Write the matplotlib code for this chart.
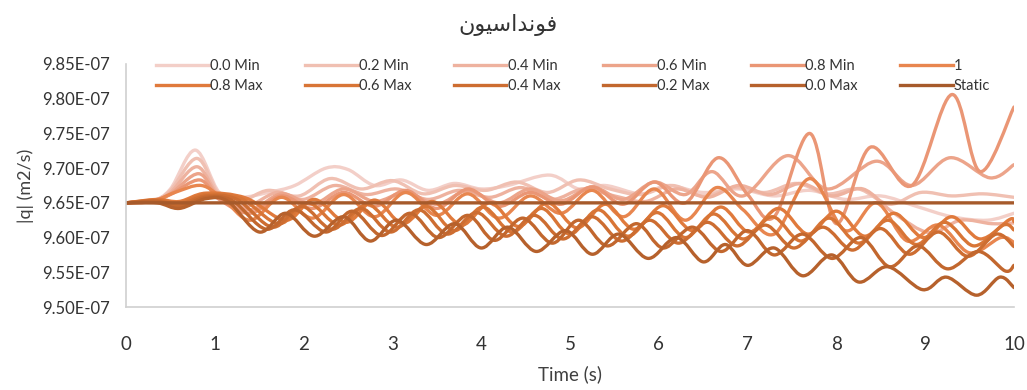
import matplotlib
matplotlib.use('Agg')
import matplotlib.pyplot as plt
import numpy as np
from matplotlib.path import Path
from matplotlib.patches import PathPatch
from matplotlib.lines import Line2D
from matplotlib.ticker import FuncFormatter, MultipleLocator

plt.rcParams['font.family'] = ['Lato', 'DejaVu Sans']

# series values are in units of 1e-9 m2/s, turning points of each curve
T_STATIC = [0, 10]
V_STATIC = [965, 965]

T_MIN00 = [0, 0.3, 0.5, 0.78, 1.05, 1.3, 1.6, 1.9, 2.25, 2.5, 2.8, 3.1, 3.4, 3.7, 4.0, 4.3,
           4.77, 5.1, 5.4, 5.8, 6.1, 6.5, 6.9, 7.3, 7.7, 8.1, 8.5, 8.9, 9.3, 9.7, 10]
V_MIN00 = [965, 965.3, 967, 972.6, 966.5, 965.8, 966.5, 967.5, 970, 969.8, 967.5, 968.3, 966.8,
           967.8, 967, 967.5, 969, 967, 967.5, 966.3, 967.5, 966.5, 967, 966, 966.8, 965.5, 966,
           964.5, 963, 962.5, 963.5]

T_MIN02 = [0, 0.3, 0.5, 0.8, 1.05, 1.3, 1.6, 1.95, 2.3, 2.65, 3.0, 3.35, 3.7, 4.05, 4.4, 4.75,
           5.1, 5.45, 5.8, 6.15, 6.5, 6.85, 7.2, 7.55, 7.9, 8.25, 8.6, 8.95, 9.3, 9.65, 10]
V_MIN02 = [965, 965.3, 966.8, 971.4, 966.2, 965.3, 966.8, 966, 968.5, 967, 968.2, 966.3, 967.5,
           966.8, 968, 966.5, 968.3, 967, 966.2, 967.5, 966, 967.2, 966.5, 967.8, 966.3, 967,
           964.8, 966.5, 966, 966.3, 965.8]

T_MIN04 = [0, 0.3, 0.5, 0.8, 1.05, 1.35, 1.7, 2.0, 2.35, 2.7, 3.05, 3.4, 3.75, 4.1, 4.45, 4.8,
           5.15, 5.5, 5.85, 6.2, 6.55, 6.9, 7.25, 7.6, 7.95, 8.3, 8.65, 9.05, 9.4, 9.75, 10]
V_MIN04 = [965, 965.3, 966.5, 970.2, 966, 964.5, 966.5, 965.5, 967.5, 966.2, 967, 965.5, 966.8,
           965.8, 967.2, 965.5, 967, 966, 965.2, 967, 965.8, 967.5, 966.2, 967.8, 966, 967,
           963.5, 960.7, 962.5, 962, 962.1]

T_MIN06 = [0, 0.3, 0.5, 0.82, 1.05, 1.4, 1.75, 2.1, 2.45, 2.8, 3.15, 3.5, 3.85, 4.2, 4.55, 4.9,
           5.25, 5.6, 5.95, 6.3, 6.6, 6.95, 7.45, 7.9, 8.45, 8.85, 9.28, 9.73, 10]
V_MIN06 = [965, 965.3, 966.3, 969.2, 965.8, 964, 966.3, 964.8, 967, 965.2, 966.5, 964.8, 966.8,
           965, 967, 965.3, 967.3, 965.5, 968, 966.2, 969.5, 966, 971.8, 967, 971, 967.5,
           971.5, 968.6, 970.5]

T_MIN08 = [0, 0.3, 0.5, 0.83, 1.05, 1.4, 1.75, 2.1, 2.45, 2.8, 3.15, 3.5, 3.85, 4.2, 4.55, 4.9,
           5.25, 5.6, 5.95, 6.3, 6.67, 7.0, 7.3, 7.7, 8.0, 8.38, 8.85, 9.3, 9.62, 10]
V_MIN08 = [965, 965.3, 966.2, 968.3, 965.5, 963.5, 966, 964.2, 966.5, 964.5, 966.8, 964.2, 967,
           964.5, 966.5, 964.8, 967.3, 964.8, 968, 965, 971.5, 966.2, 963, 975, 962, 973,
           967.5, 980.6, 969.5, 978.8]

T_ONE = [0, 0.3, 0.55, 0.85, 1.1, 1.4, 1.75, 2.1, 2.45, 2.8, 3.15, 3.5, 3.85, 4.2, 4.55, 4.9,
         5.25, 5.6, 5.95, 6.3, 6.65, 6.95, 7.3, 7.7, 8.1, 8.45, 8.8, 9.15, 9.5, 9.85, 10]
V_ONE = [965, 965.2, 966.5, 967.5, 965.5, 962.5, 965.8, 962.8, 966.2, 963, 966.5, 963.2, 966.3,
         962.8, 966, 963.5, 966.8, 963, 967, 962.5, 967.2, 964, 960.5, 968.5, 961, 965, 959.5,
         961.8, 957.8, 960, 959.3]

T_MAX08 = [0, 0.35, 0.6, 0.9, 1.35, 1.8, 2.12, 2.48, 2.8, 3.12, 3.45, 3.78, 4.1, 4.42, 4.75,
           5.08, 5.4, 5.72, 6.05, 6.38, 6.7, 7.02, 7.35, 7.68, 8.0, 8.32, 8.65, 8.98, 9.3, 9.62,
           9.95, 10]
V_MAX08 = [965, 965.5, 965.2, 966.4, 965.7, 962.5, 965.5, 962.2, 965.4, 962, 965.2, 961.8, 965,
           961.6, 965, 961.4, 964.8, 961.2, 964.6, 961, 964.4, 960.8, 964.2, 960.5, 963.8, 960.2,
           963.5, 960, 963, 959.8, 962.6, 962.3]

T_MAX06 = [0, 0.35, 0.6, 0.9, 1.3, 1.72, 2.05, 2.4, 2.72, 3.05, 3.38, 3.7, 4.02, 4.35, 4.68,
           5.0, 5.32, 5.65, 5.98, 6.3, 6.62, 6.95, 7.28, 7.6, 7.92, 8.25, 8.58, 8.9, 9.22, 9.55,
           9.88, 10]
V_MAX06 = [965, 965.4, 965, 966.2, 965.6, 962, 965, 961.8, 964.8, 961.5, 964.5, 961, 964.4,
           960.8, 964.2, 960.5, 964, 960.2, 963.6, 960, 963.4, 959.8, 963, 959.5, 962.8, 959.2,
           962.5, 959, 962.2, 958.8, 961.8, 961.1]

T_MAX04 = [0, 0.35, 0.6, 0.9, 1.25, 1.65, 1.98, 2.32, 2.65, 2.98, 3.3, 3.62, 3.95, 4.28, 4.6,
           4.92, 5.25, 5.58, 5.9, 6.22, 6.55, 6.88, 7.2, 7.52, 7.85, 8.18, 8.5, 8.82, 9.15, 9.48,
           9.8, 10]
V_MAX04 = [965, 965.3, 964.8, 966, 965.5, 961.5, 964.5, 961.2, 964.2, 960.8, 964, 960.5, 963.6,
           960.2, 963.2, 959.8, 963, 959.5, 962.5, 959.2, 962.2, 958.8, 961.8, 958.5, 961.5,
           958.2, 961.3, 957.6, 960.8, 957.3, 960.5, 958.7]

T_MAX02 = [0, 0.35, 0.6, 0.9, 1.2, 1.58, 1.9, 2.25, 2.55, 2.88, 3.2, 3.52, 3.85, 4.15, 4.47,
           4.8, 5.1, 5.42, 5.75, 6.05, 6.38, 6.7, 7.0, 7.3, 7.62, 7.95, 8.28, 8.6, 8.92, 9.25,
           9.6, 9.9, 10]
V_MAX02 = [965, 965.2, 964.5, 965.8, 965.3, 961.2, 964, 960.8, 963.8, 960.3, 963.5, 960, 963.2,
           959.6, 962.8, 959.2, 962.5, 958.8, 962, 958.5, 961.5, 958, 961, 957.5, 960.5, 957,
           960, 955.8, 958.8, 955.5, 958, 955.2, 956]

T_MAX00 = [0, 0.35, 0.6, 0.9, 1.15, 1.5, 1.8, 2.12, 2.45, 2.75, 3.05, 3.38, 3.7, 4.0, 4.3,
           4.62, 4.95, 5.25, 5.55, 5.88, 6.2, 6.5, 6.75, 7.0, 7.3, 7.62, 7.95, 8.25, 8.58, 8.97,
           9.24, 9.58, 9.84, 10]
V_MAX00 = [965, 965, 964.2, 965.6, 965.2, 960.8, 963.5, 960.2, 963, 959.5, 962.5, 959, 962,
           958.5, 961.5, 958, 961, 957.6, 960.5, 957, 960, 956.5, 959, 956, 958.5, 954.5, 957.5,
           953.6, 955.8, 952.5, 954.3, 951.7, 954.3, 952.8]

LABELS = ['0.0 Min', '0.2 Min', '0.4 Min', '0.6 Min', '0.8 Min', '1',
          '0.8 Max', '0.6 Max', '0.4 Max', '0.2 Max', '0.0 Max', 'Static']
TIMES = [T_MIN00, T_MIN02, T_MIN04, T_MIN06, T_MIN08, T_ONE,
         T_MAX08, T_MAX06, T_MAX04, T_MAX02, T_MAX00, T_STATIC]
VALUES = [V_MIN00, V_MIN02, V_MIN04, V_MIN06, V_MIN08, V_ONE,
          V_MAX08, V_MAX06, V_MAX04, V_MAX02, V_MAX00, V_STATIC]
COLORS = ['#f3cfc8', '#f0c0b2', '#eeb29f', '#eca48a', '#ea9675', '#e8864f',
          '#e07a3c', '#d87536', '#cd6d31', '#c2672e', '#b6612c', '#a65a2b']

# Persian title, written in presentation forms so the letters join
TITLE = '\uFEE5\uFEEE\uFEF4\uFEB3\uFE8D\uFEAA\uFEE7\uFEEE\uFED3'


def smooth_path(t, v):
    """Smoothed line through the points (cubic Bezier, like a spreadsheet 'smoothed line')."""
    p = np.column_stack([t, np.asarray(v) * 1e-9])
    n = len(p)
    verts = [p[0]]
    codes = [Path.MOVETO]
    for i in range(n - 1):
        p0 = p[i - 1] if i > 0 else p[i]
        p1, p2 = p[i], p[i + 1]
        p3 = p[i + 2] if i + 2 < n else p[i + 1]
        verts += [p1 + (p2 - p0) / 6, p2 - (p3 - p1) / 6, p2]
        codes += [Path.CURVE4] * 3
    return Path(verts, codes)


fig = plt.figure(figsize=(10.27, 3.9), dpi=100)
ax = fig.add_axes([0.1227, 0.2128, 0.8646, 0.6231])

handles = []
for t, v, c, lab in zip(TIMES, VALUES, COLORS, LABELS):
    ax.add_patch(PathPatch(smooth_path(t, v), fill=False, edgecolor=c, lw=2.4,
                           joinstyle='round', capstyle='round'))
    handles.append(Line2D([], [], color=c, lw=2.4))

ax.set_xlim(0, 10)
ax.set_ylim(9.50e-7, 9.85e-7)
ax.xaxis.set_major_locator(MultipleLocator(1))
ax.yaxis.set_major_locator(MultipleLocator(0.05e-7))
ax.yaxis.set_major_formatter(FuncFormatter(lambda v, p: f'{v:.2E}'))
ax.tick_params(axis='both', length=0)
ax.tick_params(axis='y', labelsize=12, pad=11.5)
ax.tick_params(axis='x', labelsize=13.5, pad=21)
for lab in ax.get_yticklabels() + ax.get_xticklabels():
    lab.set_color('#333333')

for s in ['top', 'right']:
    ax.spines[s].set_visible(False)
for s in ['left', 'bottom']:
    ax.spines[s].set_color('#d0d0d0')
    ax.spines[s].set_linewidth(1.2)

ax.set_xlabel('Time (s)', fontsize=13.5, color='#404040', labelpad=9)
ax.set_ylabel('|q| (m2/s)', fontsize=13, color='#404040', labelpad=6)
fig.text(0.495, 0.935, TITLE, fontsize=16, color='#333333', ha='center', va='center',
         family=['DejaVu Sans'])

# legend rows: Min series on top, Max series below (legend fills by column)
order = []
for i in range(6):
    order += [i, i + 6]
leg = ax.legend([handles[i] for i in order], [LABELS[i] for i in order],
                ncol=6, loc='upper left', bbox_to_anchor=(0.021, 1.07),
                frameon=False, fontsize=10.5, handlelength=3.6, handletextpad=0.1,
                columnspacing=2.9, labelspacing=0.45, borderpad=0.3)
for txt in leg.get_texts():
    txt.set_color('#333333')

fig.savefig('out.png', dpi=100)
